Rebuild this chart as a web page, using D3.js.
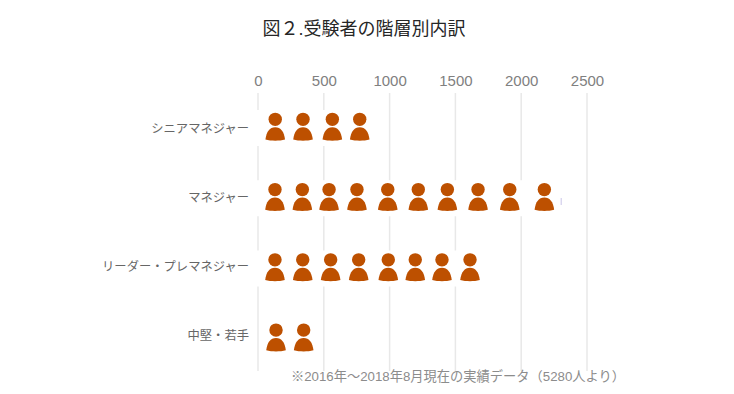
<!DOCTYPE html>
<html>
<head>
<meta charset="utf-8">
<script src="https://cdn.jsdelivr.net/npm/d3@7/dist/d3.min.js"></script>
<style>
  html, body { margin: 0; background: #fff; }
  text { font-family: "Liberation Sans", "Noto Sans CJK JP", sans-serif; }
  .tick line { display: none; }
</style>
</head>
<body>
<div id="chart"></div>
<script>

const width = 734,
  height = 394;

const title = '図２.受験者の階層別内訳';
const note = '※2016年～2018年8月現在の実績データ（5280人より）';

const categories = [ 'シニアマネジャー', 'マネジャー', 'リーダー・プレマネジャー', '中堅・若手' ];
const barValues = [ 800, 2300, 1700, 480 ];
const xTicks = [ 0, 500, 1000, 1500, 2000, 2500 ];

// Where each person icon sits along the value axis, one list per row
const iconsSenior = [ 131, 342, 565, 773 ];
const iconsManager = [ 129, 337, 540, 752, 986, 1218, 1439, 1672, 1913, 2176 ];
const iconsLeader = [ 129, 340, 552, 765, 990, 1195, 1398, 1611 ];
const iconsJunior = [ 137, 347 ];
const iconRows = [ iconsSenior, iconsManager, iconsLeader, iconsJunior ];

const xScale = d3.scaleLinear()
  .domain( [ 0, 2500 ] )
  .range( [ 258, 587 ] );

const yScale = d3.scaleBand()
  .domain( categories )
  .range( [ 93, 374 ] );

// Labels run on a slightly tighter step than the icons
const labelScale = d3.scaleBand()
  .domain( categories )
  .range( [ 94, 370.8 ] );

const svg = d3.select( '#chart' )
  .append( 'svg' )
    .attr( 'width', width )
    .attr( 'height', height )
    .style( 'display', 'block' );

svg.append( 'text' )
  .attr( 'x', 364 )
  .attr( 'y', 35 )
  .attr( 'text-anchor', 'middle' )
  .attr( 'font-size', 18 )
  .attr( 'fill', '#262626' )
  .text( title );

// Gridlines
svg.append( 'g' )
  .selectAll( 'line' )
  .data( xTicks )
  .enter()
    .append( 'line' )
    .attr( 'x1', d => xScale( d ) )
    .attr( 'x2', d => xScale( d ) )
    .attr( 'y1', 93 )
    .attr( 'y2', 371 )
    .attr( 'stroke', '#e8e8e8' )
    .attr( 'stroke-width', 1.5 );

// White bars hide the gridlines behind the icons, the last row keeps its lines
svg.append( 'g' )
  .selectAll( 'rect' )
  .data( categories.slice( 0, 3 ) )
  .enter()
    .append( 'rect' )
    .attr( 'x', xScale( 0 ) - 1 )
    .attr( 'y', d => yScale( d ) + 17 )
    .attr( 'width', ( d, i ) => xScale( barValues[ i ] ) - xScale( 0 ) )
    .attr( 'height', 36 )
    .attr( 'fill', '#fff' );

// Top axis
const xAxis = svg.append( 'g' )
  .attr( 'transform', 'translate(0,86)' )
  .call( d3.axisTop( xScale ).tickValues( xTicks ).tickFormat( d3.format( 'd' ) ).tickSize( 0 ).tickPadding( 0 ) );
xAxis.select( '.domain' ).remove();
xAxis.selectAll( 'text' )
  .attr( 'font-size', 15 )
  .attr( 'fill', '#808080' );

// Category axis
const yAxis = svg.append( 'g' )
  .attr( 'transform', 'translate(249,0)' )
  .call( d3.axisLeft( labelScale ).tickSize( 0 ).tickPadding( 0 ) );
yAxis.select( '.domain' ).remove();
yAxis.selectAll( 'text' )
  .attr( 'font-size', 12.3 )
  .attr( 'fill', '#666' );

// Person icons: head and shoulders
const rows = svg.append( 'g' )
  .selectAll( 'g' )
  .data( iconRows )
  .enter()
    .append( 'g' )
    .attr( 'transform', ( d, i ) => 'translate(0,' + ( yScale( categories[ i ] ) + yScale.bandwidth() / 2 ) + ')' );

const icons = rows.selectAll( 'g' )
  .data( d => d )
  .enter()
    .append( 'g' )
    .attr( 'transform', d => 'translate(' + xScale( d ) + ',0)' );

icons.append( 'circle' )
  .attr( 'cy', -8.8 )
  .attr( 'r', 6.7 )
  .attr( 'fill', '#bd5000' );

icons.append( 'path' )
  .attr( 'd', 'M-9.8,11.4C-8.8,3.5 -5.5,-0.8 0,-0.8C5.5,-0.8 8.8,3.5 9.8,11.4C4,13 -4,13 -9.8,11.4Z' )
  .attr( 'fill', '#bd5000' );

// Small mark at the end of the longest bar
svg.append( 'rect' )
  .attr( 'x', xScale( barValues[ 1 ] ) )
  .attr( 'y', 198 )
  .attr( 'width', 1 )
  .attr( 'height', 7 )
  .attr( 'fill', '#c9c5e8' );

svg.append( 'text' )
  .attr( 'x', 291 )
  .attr( 'y', 380.5 )
  .attr( 'font-size', 13.25 )
  .attr( 'fill', '#8c8c8c' )
  .text( note );

</script>
</body>
</html>
